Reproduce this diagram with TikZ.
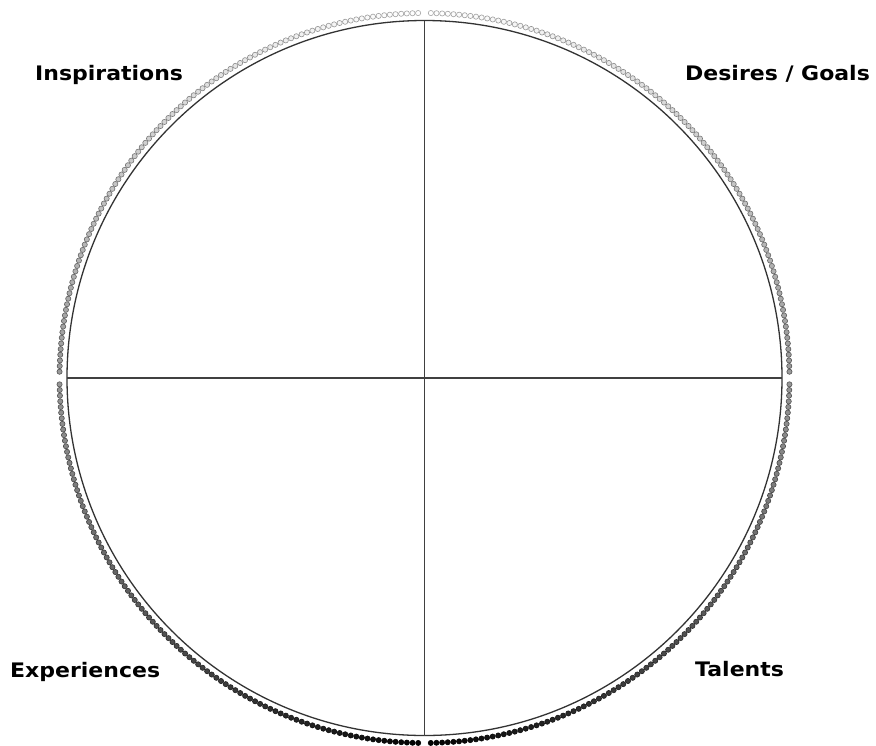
\documentclass[tikz,border=0pt]{standalone}
\usepackage{fontspec}
\setmainfont{DejaVu Sans}
\newfontfamily\labfont[FakeStretch=1.1]{DejaVu Sans}
\begin{document}
\begin{tikzpicture}[x=1pt,y=-1pt,
  label/.style={font=\labfont\fontsize{20}{23}\selectfont\bfseries, anchor=base west, inner sep=0pt, text=black},
  ringline/.style={draw=black!80, line width=1.3pt},
  axisline/.style={draw=black!75, line width=1.1pt}]
\useasboundingbox[fill=white] (0,0) rectangle (876,745);
\def\cx{424.5}\def\cy{378}\def\R{357.5}\def\Rd{365}
\coordinate (c) at (\cx,\cy);
\coordinate (top) at (\cx,\cy-\R);
\coordinate (bot) at (\cx,\cy+\R);
\coordinate (lft) at (\cx-\R,\cy);
\coordinate (rgt) at (\cx+\R,\cy);
% dot ring (four quarters, gaps at the cardinal points)
\foreach \q in {0,1} {
  \foreach \i in {0,...,99} {
    \pgfmathsetmacro{\phi}{1+\q*90+\i*0.889}
    \pgfmathsetmacro{\t}{\phi/180}
    \pgfmathsetmacro{\fc}{100*\t^1.3}
    \pgfmathsetmacro{\dc}{35+65*\t}
    \fill[black!\fc, draw=black!\dc, line width=0.6pt]
      ({\cx+\Rd*sin(\phi)},{\cy-\Rd*cos(\phi)}) circle (2.6);
    \fill[black!\fc, draw=black!\dc, line width=0.6pt]
      ({\cx-\Rd*sin(\phi)},{\cy-\Rd*cos(\phi)}) circle (2.6);
  }
}
\draw[ringline] (c) circle (\R);
\draw[axisline] (top) -- (bot);
\draw[axisline] (lft) -- (rgt);
\node[label] (insp) at (35,80) {Inspirations};
\node[label] (desi) at (685,80) {Desires / Goals};
\node[label] (expe) at (10,677) {Experiences};
\node[label] (tale) at (695,676) {Talents};
\end{tikzpicture}
\end{document}
